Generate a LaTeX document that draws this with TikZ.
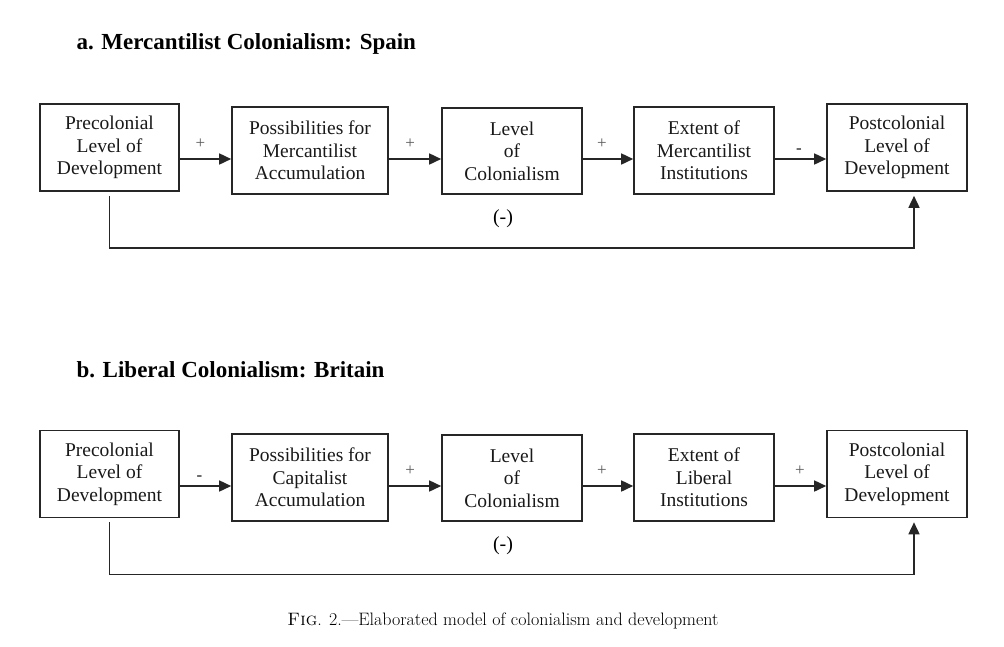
\documentclass[tikz,border=0pt]{standalone}
\usepackage{fontspec}
\newfontfamily\tnr{Liberation Serif}
\usetikzlibrary{arrows.meta}
\begin{document}
\begin{tikzpicture}[x=1pt,y=-1pt,
  box/.style={draw=black!85,line width=1.6pt,align=center,inner sep=0pt,
    font=\tnr\fontsize{19.5}{22.5}\selectfont,text=black!90},
  arr/.style={draw=black!85,line width=1.6pt,-{Triangle[length=12pt,width=11pt]}},
  plus/.style={yshift=15pt,font=\tnr\fontsize{17}{17}\selectfont,text=black!65},
  minus/.style={yshift=8pt,font=\tnr\bfseries\fontsize{17}{17}\selectfont,text=black!80},
  ttl/.style={anchor=west,font=\tnr\bfseries\fontsize{23}{26}\selectfont},
  neg/.style={font=\tnr\fontsize{20}{22}\selectfont}]
\useasboundingbox (0,0) rectangle (1004,646);
% panel a
\node[ttl] (ta) at (73,44) {a. Mercantilist Colonialism: Spain};
\node[box,minimum width=139pt,minimum height=87pt] (a1) at (109.5,147.5) {Precolonial\\Level of\\Development};
\node[box,minimum width=156pt,minimum height=87pt] (a2) at (310,150.5) {Possibilities for\\Mercantilist\\Accumulation};
\node[box,minimum width=140pt,minimum height=86pt] (a3) at (512,151) {Level\\of\\Colonialism};
\node[box,minimum width=140pt,minimum height=87pt] (a4) at (704,150.5) {Extent of\\Mercantilist\\Institutions};
\node[box,minimum width=140pt,minimum height=87pt] (a5) at (897,147.5) {Postcolonial\\Level of\\Development};
\coordinate (ya) at (0,159);
\draw[arr] (a1.east|-ya) -- node[pos=.4,plus]{+} (a2.west|-ya);
\draw[arr] (a2.east|-ya) -- node[pos=.41,plus]{+} (a3.west|-ya);
\draw[arr] (a3.east|-ya) -- node[pos=.38,plus]{+} (a4.west|-ya);
\draw[arr] (a4.east|-ya) -- node[pos=.47,minus]{-} (a5.west|-ya);
\draw[arr] ([yshift=-4pt]a1.south) |- ([xshift=17pt,yshift=-56pt]a5.south) -- ([xshift=17pt,yshift=-4pt]a5.south);
\node[neg] (na) at (503,219) {(-)};
% panel b
\node[ttl] (tb) at (73,370) {b. Liberal Colonialism: Britain};
\node[box,minimum width=139pt,minimum height=87pt] (b1) at (109.5,474) {Precolonial\\Level of\\Development};
\node[box,minimum width=156pt,minimum height=87pt] (b2) at (310,477.5) {Possibilities for\\Capitalist\\Accumulation};
\node[box,minimum width=140pt,minimum height=86pt] (b3) at (512,478) {Level\\of\\Colonialism};
\node[box,minimum width=140pt,minimum height=87pt] (b4) at (704,477.5) {Extent of\\Liberal\\Institutions};
\node[box,minimum width=140pt,minimum height=87pt] (b5) at (897,474) {Postcolonial\\Level of\\Development};
\coordinate (yb) at (0,486);
\draw[arr] (b1.east|-yb) -- node[pos=.38,minus]{-} (b2.west|-yb);
\draw[arr] (b2.east|-yb) -- node[pos=.41,plus]{+} (b3.west|-yb);
\draw[arr] (b3.east|-yb) -- node[pos=.38,plus]{+} (b4.west|-yb);
\draw[arr] (b4.east|-yb) -- node[pos=.49,plus]{+} (b5.west|-yb);
\draw[arr] ([yshift=-4pt]b1.south) |- ([xshift=17pt,yshift=-56pt]b5.south) -- ([xshift=17pt,yshift=-4pt]b5.south);
\node[neg] (nb) at (503,546) {(-)};
% caption
\node[font=\fontsize{18}{21}\selectfont] (cap) at (503,621) {\textsc{Fig}. 2.—Elaborated model of colonialism and development};
\end{tikzpicture}
\end{document}
